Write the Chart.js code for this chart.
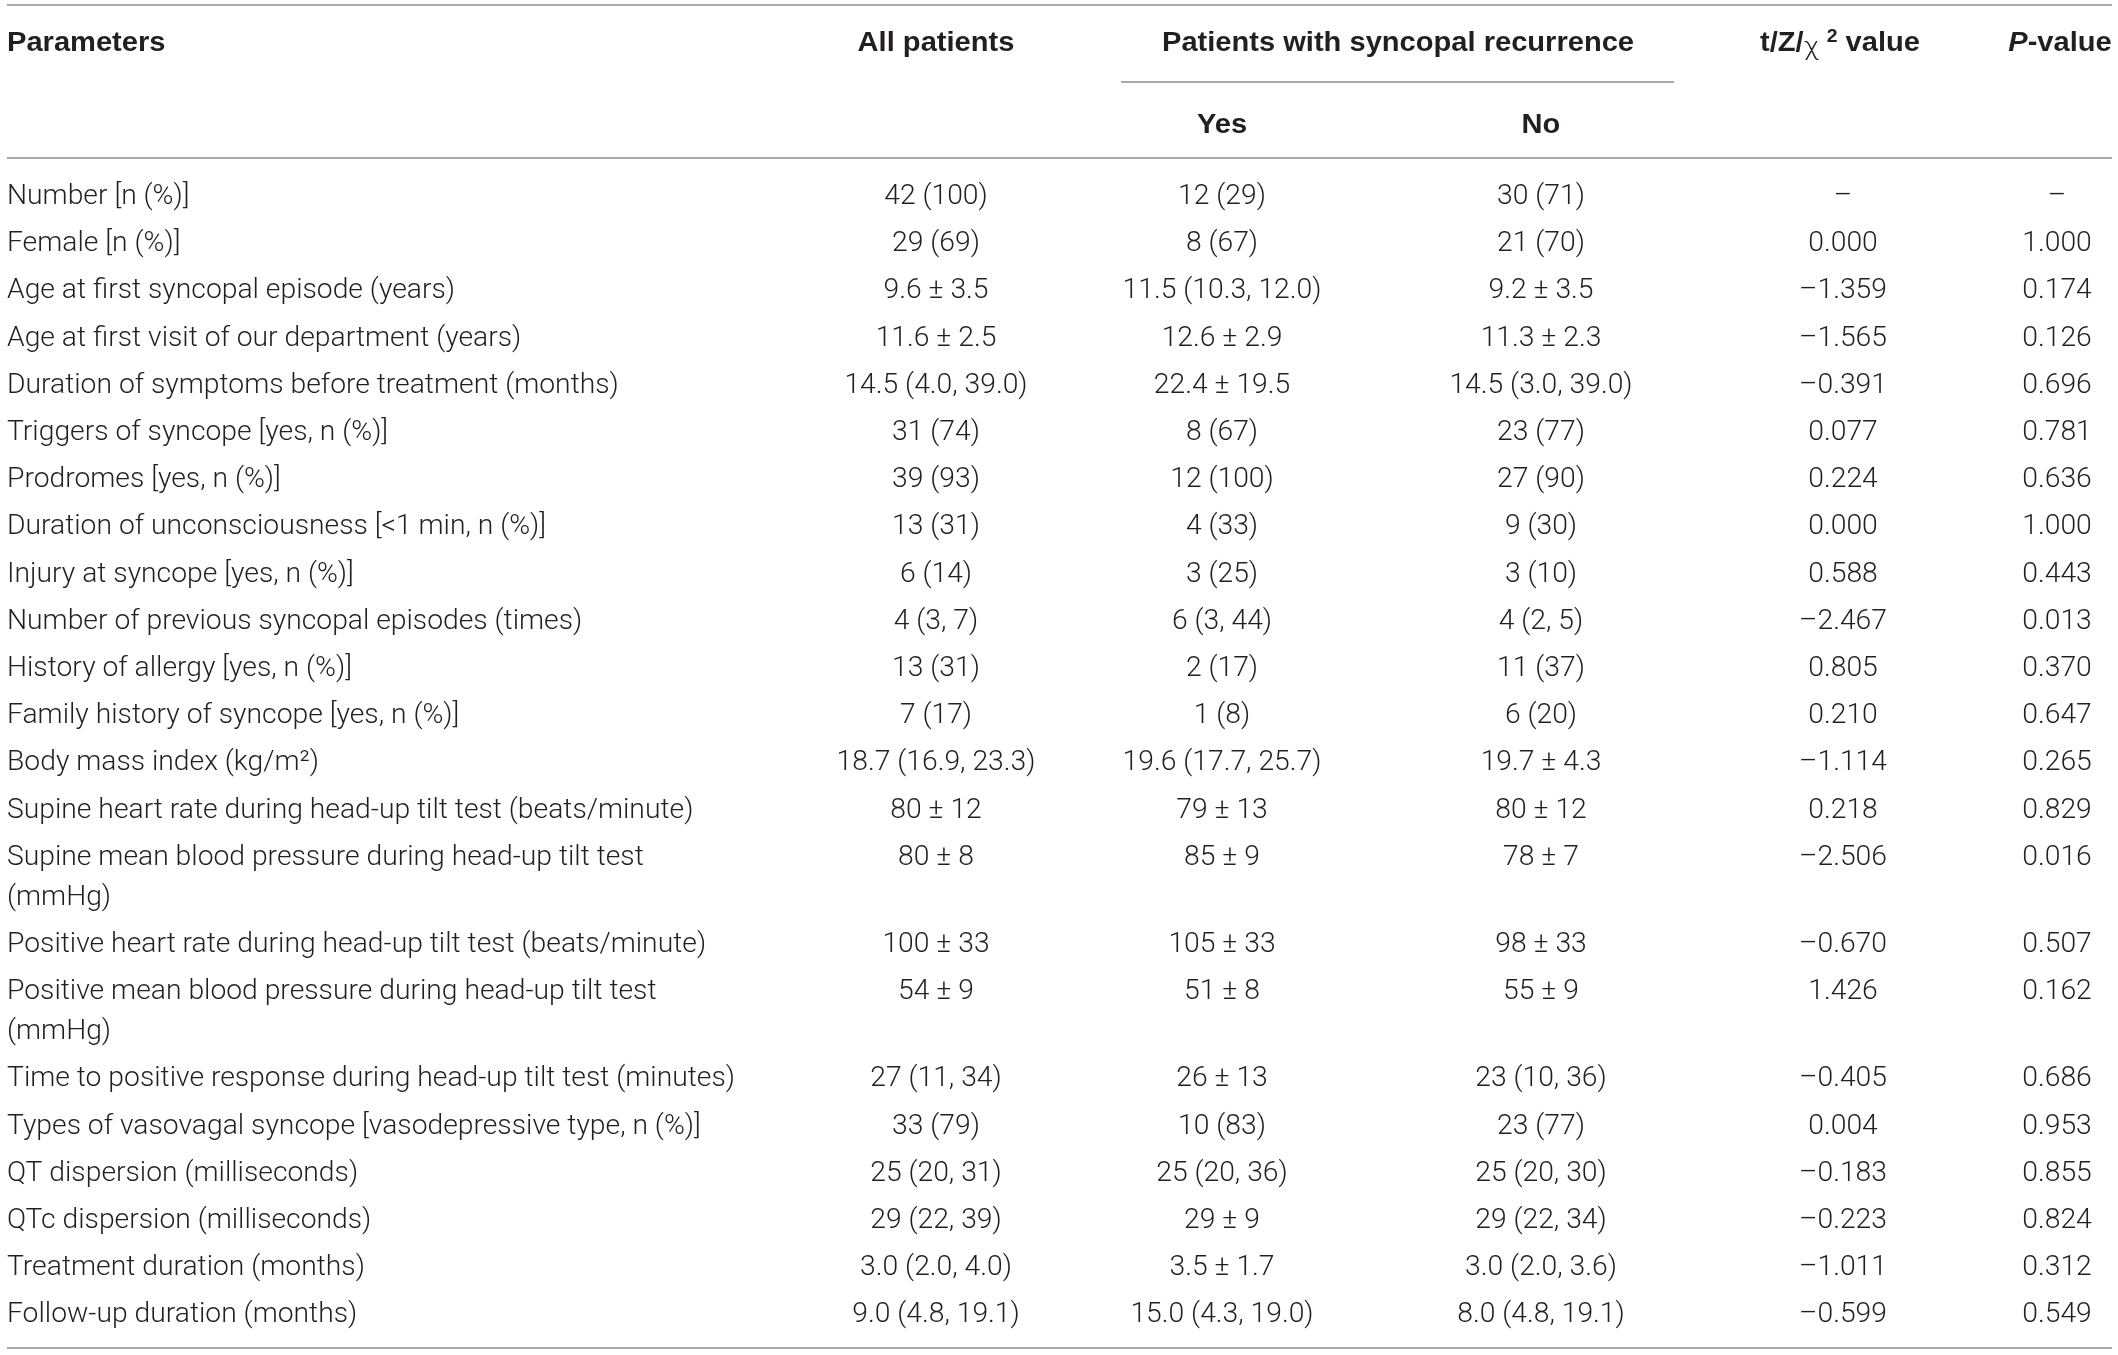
<!DOCTYPE html>
<html>
<head>
<meta charset="utf-8">
<script src="https://cdn.jsdelivr.net/npm/chart.js@4.4.1/dist/chart.umd.min.js"></script>
<style>
html,body{margin:0;padding:0;background:#ffffff;}
#wrap{width:2118px;height:1355px;position:relative;}
canvas{display:block;}
</style>
</head>
<body>
<div id="wrap"><canvas id="c" width="2118" height="1355"></canvas></div>
<script>
// ---------------- DATA ----------------
const parameters = [
  "Number [n (%)]",
  "Female [n (%)]",
  "Age at first syncopal episode (years)",
  "Age at first visit of our department (years)",
  "Duration of symptoms before treatment (months)",
  "Triggers of syncope [yes, n (%)]",
  "Prodromes [yes, n (%)]",
  "Duration of unconsciousness [<1 min, n (%)]",
  "Injury at syncope [yes, n (%)]",
  "Number of previous syncopal episodes (times)",
  "History of allergy [yes, n (%)]",
  "Family history of syncope [yes, n (%)]",
  "Body mass index (kg/m\u00B2)",
  "Supine heart rate during head-up tilt test (beats/minute)",
  "Supine mean blood pressure during head-up tilt test\n(mmHg)",
  "Positive heart rate during head-up tilt test (beats/minute)",
  "Positive mean blood pressure during head-up tilt test\n(mmHg)",
  "Time to positive response during head-up tilt test (minutes)",
  "Types of vasovagal syncope [vasodepressive type, n (%)]",
  "QT dispersion (milliseconds)",
  "QTc dispersion (milliseconds)",
  "Treatment duration (months)",
  "Follow-up duration (months)"
];
const allPatients = [
  "42 (100)", "29 (69)", "9.6 \u00B1 3.5", "11.6 \u00B1 2.5", "14.5 (4.0, 39.0)",
  "31 (74)", "39 (93)", "13 (31)", "6 (14)", "4 (3, 7)", "13 (31)", "7 (17)",
  "18.7 (16.9, 23.3)", "80 \u00B1 12", "80 \u00B1 8", "100 \u00B1 33", "54 \u00B1 9",
  "27 (11, 34)", "33 (79)", "25 (20, 31)", "29 (22, 39)", "3.0 (2.0, 4.0)", "9.0 (4.8, 19.1)"
];
const recurrenceYes = [
  "12 (29)", "8 (67)", "11.5 (10.3, 12.0)", "12.6 \u00B1 2.9", "22.4 \u00B1 19.5",
  "8 (67)", "12 (100)", "4 (33)", "3 (25)", "6 (3, 44)", "2 (17)", "1 (8)",
  "19.6 (17.7, 25.7)", "79 \u00B1 13", "85 \u00B1 9", "105 \u00B1 33", "51 \u00B1 8",
  "26 \u00B1 13", "10 (83)", "25 (20, 36)", "29 \u00B1 9", "3.5 \u00B1 1.7", "15.0 (4.3, 19.0)"
];
const recurrenceNo = [
  "30 (71)", "21 (70)", "9.2 \u00B1 3.5", "11.3 \u00B1 2.3", "14.5 (3.0, 39.0)",
  "23 (77)", "27 (90)", "9 (30)", "3 (10)", "4 (2, 5)", "11 (37)", "6 (20)",
  "19.7 \u00B1 4.3", "80 \u00B1 12", "78 \u00B1 7", "98 \u00B1 33", "55 \u00B1 9",
  "23 (10, 36)", "23 (77)", "25 (20, 30)", "29 (22, 34)", "3.0 (2.0, 3.6)", "8.0 (4.8, 19.1)"
];
const testValues = [
  "\u2013", "0.000", "\u20131.359", "\u20131.565", "\u20130.391", "0.077", "0.224", "0.000",
  "0.588", "\u20132.467", "0.805", "0.210", "\u20131.114", "0.218", "\u20132.506", "\u20130.670",
  "1.426", "\u20130.405", "0.004", "\u20130.183", "\u20130.223", "\u20131.011", "\u20130.599"
];
const pValues = [
  "\u2013", "1.000", "0.174", "0.126", "0.696", "0.781", "0.636", "1.000",
  "0.443", "0.013", "0.370", "0.647", "0.265", "0.829", "0.016", "0.507",
  "0.162", "0.686", "0.953", "0.855", "0.824", "0.312", "0.549"
];
const headerTop = ["Parameters", "All patients", "Patients with syncopal recurrence"];
const headerSub = ["Yes", "No"];

// ---------------- LAYOUT / STYLE ----------------
const W = 2118, H = 1355;
const COL = { param: 7, all: 936, yes: 1222, no: 1541, stat: 1843, p: 2057, group: 1398, statHead: 1840, pHead: 2060 };
const ROW0 = 194, PITCH = 47.2, EXTRA = 40;
const HEAD1 = 41, HEAD2 = 123;
const RULES = { top: 5, sub: 82, head: 158, bottom: 1348, left: 7, right: 2112, subL: 1121, subR: 1674 };
const TEXT = '#231f20', RULE = '#8d8d8d';
const BODY_FONT = '300 28px Roboto';
const HEAD_FONT = 'bold 27px "Liberation Sans", Arial, sans-serif';
const BODY_REF = { text: 'Age at first syncopal episode (years)', width: 448 };
const HEAD_REF = { text: 'Patients with syncopal recurrence', width: 472 };

// row positions (from line counts)
const rowY = [];
(function () {
  let y = ROW0;
  parameters.forEach(p => {
    rowY.push(y);
    y += PITCH + (p.split('\n').length - 1) * EXTRA;
  });
})();

const columns = [
  { label: 'Parameters', values: parameters, x: COL.param, align: 'left' },
  { label: 'All patients', values: allPatients, x: COL.all, align: 'center' },
  { label: 'Yes', values: recurrenceYes, x: COL.yes, align: 'center' },
  { label: 'No', values: recurrenceNo, x: COL.no, align: 'center' },
  { label: 'stat', values: testValues, x: COL.stat, align: 'center' },
  { label: 'P', values: pValues, x: COL.p, align: 'center' }
];

function fitScale(ctx, font, ref) {
  ctx.save(); ctx.font = font;
  const w = ctx.measureText(ref.text).width;
  ctx.restore();
  return w > 0 ? ref.width / w : 1;
}
function capOffset(font) {
  const m = font.match(/(\d+(\.\d+)?)px/);
  return m ? parseFloat(m[1]) * 0.357 : 10;
}
function drawStr(ctx, str, x, y, align, font, sx) {
  ctx.save();
  ctx.font = font;
  ctx.fillStyle = TEXT;
  ctx.textBaseline = 'alphabetic';
  ctx.textAlign = align;
  ctx.translate(x, y);
  ctx.scale(sx, 1);
  ctx.fillText(str, 0, 0);
  ctx.restore();
}
// draw a run of segments centred on x
function drawRuns(ctx, runs, cx, baseY, sx) {
  let total = 0;
  runs.forEach(r => { ctx.save(); ctx.font = r.font; r.w = ctx.measureText(r.text).width * sx; ctx.restore(); total += r.w; });
  let x = cx - total / 2;
  runs.forEach(r => { drawStr(ctx, r.text, x, baseY + (r.dy || 0), 'left', r.font, sx); x += r.w; });
}

const tablePlugin = {
  id: 'tablePlugin',
  afterDatasetsDraw(chart) {
    const ctx = chart.ctx;
    const xs = chart.scales.x, ys = chart.scales.y;
    const bodySx = fitScale(ctx, BODY_FONT, BODY_REF);
    const headSx = fitScale(ctx, HEAD_FONT, HEAD_REF);
    const bodyOff = capOffset(BODY_FONT), headOff = capOffset(HEAD_FONT);

    // rules
    ctx.save();
    ctx.strokeStyle = RULE;
    ctx.lineWidth = 1.6;
    const hline = (y, x1, x2) => {
      ctx.beginPath();
      ctx.moveTo(xs.getPixelForValue(x1), ys.getPixelForValue(y));
      ctx.lineTo(xs.getPixelForValue(x2), ys.getPixelForValue(y));
      ctx.stroke();
    };
    hline(RULES.top, RULES.left, RULES.right);
    hline(RULES.sub, RULES.subL, RULES.subR);
    hline(RULES.head, RULES.left, RULES.right);
    hline(RULES.bottom, RULES.left, RULES.right);
    ctx.restore();

    // headers
    const h1 = ys.getPixelForValue(HEAD1) + headOff;
    const h2 = ys.getPixelForValue(HEAD2) + headOff;
    drawStr(ctx, headerTop[0], xs.getPixelForValue(COL.param), h1, 'left', HEAD_FONT, headSx);
    drawStr(ctx, headerTop[1], xs.getPixelForValue(COL.all), h1, 'center', HEAD_FONT, headSx);
    drawStr(ctx, headerTop[2], xs.getPixelForValue(COL.group), h1, 'center', HEAD_FONT, headSx);
    drawStr(ctx, headerSub[0], xs.getPixelForValue(COL.yes), h2, 'center', HEAD_FONT, headSx);
    drawStr(ctx, headerSub[1], xs.getPixelForValue(COL.no), h2, 'center', HEAD_FONT, headSx);
    drawRuns(ctx, [
      { text: 't/Z/', font: HEAD_FONT },
      { text: '\u03C7', font: '300 26px Roboto', dy: 4 },
      { text: ' ', font: HEAD_FONT },
      { text: '2', font: 'bold 18px "Liberation Sans", Arial, sans-serif', dy: -9 },
      { text: ' value', font: HEAD_FONT }
    ], xs.getPixelForValue(COL.statHead), h1, headSx);
    drawRuns(ctx, [
      { text: 'P', font: 'italic ' + HEAD_FONT },
      { text: '-value', font: HEAD_FONT }
    ], xs.getPixelForValue(COL.pHead), h1, headSx);

    // body cells, positioned by the chart's point elements
    chart.data.datasets.forEach((ds, di) => {
      const meta = chart.getDatasetMeta(di);
      meta.data.forEach((el, i) => {
        const lines = String(ds.data[i].text).split('\n');
        lines.forEach((ln, k) => {
          drawStr(ctx, ln, el.x, el.y + bodyOff + k * EXTRA, ds.textAlign, BODY_FONT, bodySx);
        });
      });
    });
  }
};

new Chart(document.getElementById('c'), {
  type: 'scatter',
  data: {
    datasets: columns.map(c => ({
      label: c.label,
      textAlign: c.align,
      data: c.values.map((v, i) => ({ x: c.x, y: rowY[i], text: v })),
      pointRadius: 0,
      pointHoverRadius: 0,
      showLine: false
    }))
  },
  options: {
    responsive: false,
    devicePixelRatio: 1,
    animation: false,
    events: [],
    layout: { padding: 0 },
    plugins: { legend: { display: false }, tooltip: { enabled: false } },
    scales: {
      x: { type: 'linear', min: 0, max: W, display: false },
      y: { type: 'linear', min: 0, max: H, reverse: true, display: false }
    }
  },
  plugins: [tablePlugin]
});
</script>
</body>
</html>
